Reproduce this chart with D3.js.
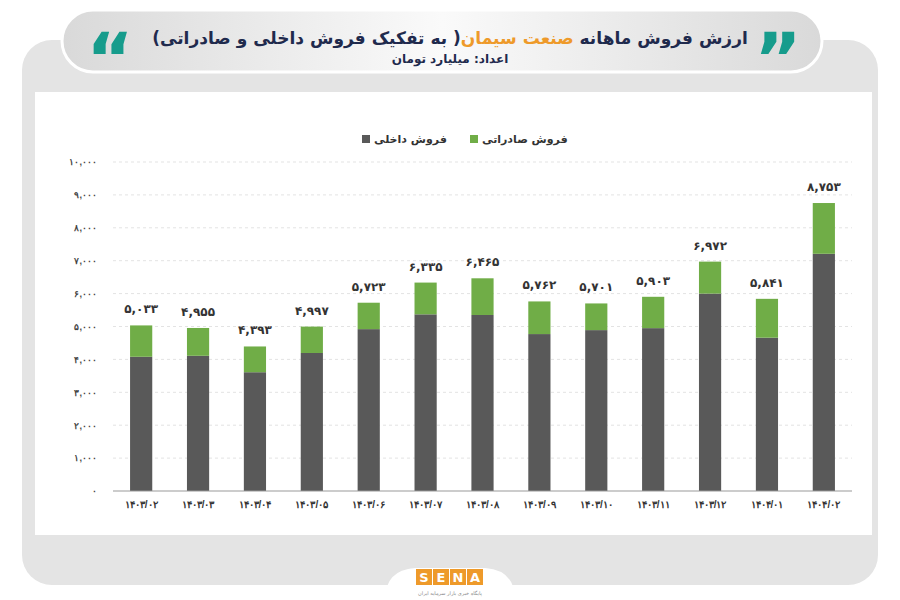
<!DOCTYPE html>
<html><head><meta charset="utf-8">
<script src="https://cdn.jsdelivr.net/npm/d3@7"></script>
<style>
body{margin:0;background:#fff;font-family:"DejaVu Sans",sans-serif;}
#wrap{position:relative;width:900px;height:600px;overflow:hidden;}
.title{position:absolute;left:0;width:900px;text-align:center;direction:rtl;font-weight:bold;color:#1f2a4d;}
</style></head>
<body><div id="wrap"><svg id="chart" width="900" height="600"></svg>
<div class="title" style="top:28px;font-size:17px;letter-spacing:-0.5px;">ارزش فروش ماهانه <span style="color:#ee9a2a">صنعت سیمان</span>( به تفکیک فروش داخلی و صادراتی)</div>
<div class="title" style="top:52px;font-size:12px;">اعداد: میلیارد تومان</div>
</div>
<script>
const months = ["1403/02","1403/03","1403/04","1403/05","1403/06","1403/07","1403/08","1403/09","1403/10","1403/11","1403/12","1404/01","1404/02"];
const totals = [5033,4955,4393,4997,5723,6335,6465,5762,5701,5903,6972,5841,8753];
const domestic = [4080,4110,3610,4195,4920,5370,5350,4770,4890,4950,6000,4660,7210];
const exportSales = totals.map((t,i) => t - domestic[i]);
const yTicks = [0,1000,2000,3000,4000,5000,6000,7000,8000,9000,10000];

const fa = s => String(s).replace(/\d/g, d => "۰۱۲۳۴۵۶۷۸۹"[d]);
const svg = d3.select("#chart");

// frame
svg.append("rect").attr("x",22).attr("y",40).attr("width",856).attr("height",545).attr("rx",30).attr("fill","#e4e4e4");
svg.append("rect").attr("x",35).attr("y",92).attr("width",837).attr("height",443).attr("fill","#fff");
const g0 = svg.append("defs").append("linearGradient").attr("id","pill").attr("x1",0).attr("x2",1);
g0.append("stop").attr("offset","0").attr("stop-color","#d9d9d9");
g0.append("stop").attr("offset","0.5").attr("stop-color","#fafafa");
g0.append("stop").attr("offset","1").attr("stop-color","#d9d9d9");
svg.append("rect").attr("x",62).attr("y",10).attr("width",760).attr("height",62).attr("rx",31)
  .attr("fill","url(#pill)").attr("stroke","#fff").attr("stroke-width",3);
// quote marks
svg.append("text").attr("x",110).attr("y",84).attr("text-anchor","middle").attr("font-size",72)
  .attr("font-weight","bold").attr("fill","#169c8c").text("\u201C");
svg.append("text").attr("x",778).attr("y",84).attr("text-anchor","middle").attr("font-size",72)
  .attr("font-weight","bold").attr("fill","#169c8c").text("\u201D");
// logo
svg.append("path").attr("d","M385,600 Q385,570 415,568 L485,568 Q515,570 515,600 Z").attr("fill","#fff");
const logo = svg.append("g").attr("transform","translate(450,578)");
["S","E","N","A"].forEach((c,i) => {
  logo.append("rect").attr("x",-34+i*17).attr("y",-9).attr("width",16).attr("height",16).attr("fill","#ee9a2a");
  logo.append("text").attr("x",-26+i*17).attr("y",4).attr("text-anchor","middle").attr("font-size",13)
    .attr("font-weight","bold").attr("fill","#fff").text(c);
});
logo.append("text").attr("y",17).attr("text-anchor","middle").attr("font-size",5).attr("fill","#888")
  .attr("direction","rtl").text("پایگاه خبری بازار سرمایه ایران");

// scales
const x = d3.scaleBand().domain(months).range([113,852]).paddingInner(0.61).paddingOuter(0.3);
const y = d3.scaleLinear().domain([0,10000]).range([491,162]);

// grid
svg.append("g").selectAll("line").data(yTicks.slice(1)).join("line")
  .attr("x1",113).attr("x2",852).attr("y1",d=>y(d)).attr("y2",d=>y(d))
  .attr("stroke","#e3e3e3").attr("stroke-dasharray","3,3");

const yAxis = svg.append("g").attr("transform","translate(100,0)")
  .call(d3.axisLeft(y).tickValues(yTicks).tickSize(0).tickFormat(d => fa(d3.format(",")(d))));
yAxis.select(".domain").remove();
yAxis.selectAll("text").attr("font-size",9).attr("fill","#444").attr("font-weight","bold");

const stack = d3.stack().keys(["domestic","exp"])(months.map((m,i)=>({m,domestic:domestic[i],exp:exportSales[i]})));
const colors = ["#595959","#70ad47"];
svg.append("g").selectAll("g").data(stack).join("g").attr("fill",(d,i)=>colors[i])
  .selectAll("rect").data(d=>d).join("rect")
  .attr("x",d=>x(d.data.m)).attr("width",x.bandwidth())
  .attr("y",d=>y(d[1])).attr("height",d=>y(d[0])-y(d[1]));

svg.append("g").selectAll("text").data(months).join("text")
  .attr("x",d=>x(d)+x.bandwidth()/2).attr("y",(d,i)=>y(totals[i])-12)
  .attr("text-anchor","middle").attr("font-size",12).attr("font-weight","bold").attr("fill","#333")
  .text((d,i)=>fa(d3.format(",")(totals[i])));

svg.append("line").attr("x1",113).attr("x2",852).attr("y1",491).attr("y2",491).attr("stroke","#999");
const xAxis = svg.append("g").attr("transform","translate(0,491)")
  .call(d3.axisBottom(x).tickSize(0).tickPadding(10).tickFormat(fa));
xAxis.select(".domain").remove();
xAxis.selectAll("text").attr("font-size",10).attr("font-weight","bold").attr("fill","#333");

// legend
const legend = [["فروش داخلی","#595959",362],["فروش صادراتی","#70ad47",470]];
legend.forEach(([t,c,lx]) => {
  svg.append("rect").attr("x",lx).attr("y",135).attr("width",8).attr("height",8).attr("fill",c);
  svg.append("text").attr("x",lx+12).attr("y",143).attr("font-size",11).attr("font-weight","bold")
    .attr("fill","#333").attr("direction","rtl").attr("text-anchor","end").text(t);
});
</script></body></html>
